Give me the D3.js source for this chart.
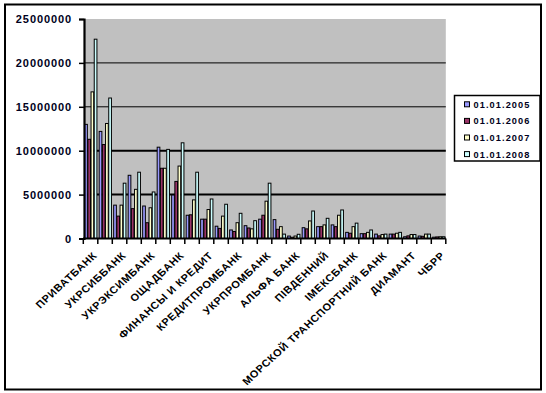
<!DOCTYPE html>
<html>
<head>
<meta charset="utf-8">
<script src="https://cdn.jsdelivr.net/npm/d3@7/dist/d3.min.js"></script>
<style>
  html, body { margin: 0; padding: 0; background: #fff; }
  svg { display: block; }
  text { font-family: "Liberation Sans", Arial, sans-serif; }
</style>
</head>
<body>
<svg id="chart" width="546" height="393"></svg>
<script>
// Category labels (only every other label is shown in the original chart)
const categories = [
  "ПРИВАТБАНК", "", "УКРСИББАНК", "", "УКРЭКСИМБАНК", "", "ОЩАДБАНК", "",
  "ФИНАНСЫ И КРЕДИТ", "", "КРЕДИТПРОМБАНК", "", "УКРПРОМБАНК", "",
  "АЛЬФА БАНК", "", "ПІВДЕННИЙ", "", "ІМЕКСБАНК", "",
  "МОРСКОЙ ТРАНСПОРТНИЙ БАНК", "", "ДИАМАНТ", "", "ЧБРР"
];
const seriesNames = ["01.01.2005", "01.01.2006", "01.01.2007", "01.01.2008"];
const s2005 = [13000000, 12200000, 3800000, 7200000, 3700000, 10400000, 4950000, 2650000, 2200000, 1400000, 970000, 1460000, 2200000, 2150000, 280000, 1230000, 1350000, 1550000, 700000, 550000, 500000, 500000, 200000, 280000, 150000];
const s2006 = [11300000, 10700000, 2550000, 3400000, 1800000, 8000000, 6500000, 2700000, 2200000, 1150000, 800000, 1200000, 2650000, 1050000, 140000, 1100000, 1350000, 1350000, 600000, 550000, 300000, 500000, 300000, 250000, 180000];
const s2007 = [16700000, 13100000, 3800000, 5600000, 3500000, 8000000, 8250000, 4400000, 3300000, 2550000, 1800000, 1100000, 4250000, 1350000, 280000, 2000000, 1550000, 2650000, 1350000, 700000, 450000, 600000, 450000, 500000, 200000];
const s2008 = [22700000, 16000000, 6300000, 7550000, 5300000, 10150000, 10900000, 7550000, 4500000, 3900000, 2870000, 2030000, 6300000, 500000, 480000, 3130000, 2300000, 3250000, 1750000, 970000, 500000, 700000, 450000, 500000, 200000];
const yTicks = [0, 5000000, 10000000, 15000000, 20000000, 25000000];
const colors = ["#9999FF", "#993366", "#FFFFCC", "#CCFFFF"];

const seriesValues = [s2005, s2006, s2007, s2008];

const svg = d3.select("#chart");

// outer frame
svg.append("rect").attr("x", 5).attr("y", 4.5).attr("width", 536).attr("height", 385)
  .attr("fill", "#fff").attr("stroke", "#000").attr("stroke-width", 2);

const plot = { left: 84, right: 445.8, top: 19, bottom: 238.5 };

const x0 = d3.scaleBand().domain(d3.range(categories.length))
  .range([plot.left - 0.7, plot.right]).paddingInner(0.12).paddingOuter(0.06);
const x1 = d3.scaleBand().domain(d3.range(seriesNames.length))
  .range([0, x0.bandwidth()]).padding(0);
const y = d3.scaleLinear().domain([0, 25000000]).range([plot.bottom, plot.top]);

// plot area
svg.append("rect").attr("x", plot.left).attr("y", plot.top)
  .attr("width", plot.right - plot.left).attr("height", plot.bottom - plot.top)
  .attr("fill", "#C0C0C0");

// gridlines
svg.append("g").selectAll("line").data(yTicks.filter(d => d > 0 && d < 25000000)).join("line")
  .attr("x1", plot.left).attr("x2", plot.right)
  .attr("y1", d => y(d)).attr("y2", d => y(d))
  .attr("stroke", "#000")
  .attr("stroke-width", d => d <= 10000000 ? 2 : 1);

// bars
const groups = svg.append("g").selectAll("g").data(d3.range(categories.length)).join("g")
  .attr("transform", i => `translate(${x0(i)},0)`);
groups.selectAll("rect").data(i => seriesValues.map((s, k) => ({ k, v: s[i] }))).join("rect")
  .attr("x", d => x1(d.k) + 0.5)
  .attr("width", x1.bandwidth() - 0.5)
  .attr("y", d => y(d.v))
  .attr("height", d => plot.bottom - y(d.v))
  .attr("fill", d => colors[d.k])
  .attr("stroke", "#000").attr("stroke-width", 1);

// y axis
const yAxis = d3.axisLeft(y).tickValues(yTicks).tickSize(5).tickPadding(7)
  .tickFormat(d3.format("d"));
const gy = svg.append("g").attr("transform", `translate(${plot.left},0)`).call(yAxis);
gy.select(".domain").attr("stroke", "#000").attr("stroke-width", 2.2);
gy.selectAll(".tick line").attr("stroke", "#000").attr("stroke-width", 1.5);
gy.selectAll(".tick text").attr("font-size", 11).attr("font-weight", "bold")
  .attr("fill", "#000020").attr("letter-spacing", "0.9px")
  .attr("font-family", "'Liberation Sans', Arial, sans-serif");

// x axis line and ticks at category boundaries
const step = x0.step();
const xStart = plot.left - 0.7;
svg.append("line").attr("x1", plot.left - 1).attr("x2", plot.right)
  .attr("y1", plot.bottom).attr("y2", plot.bottom)
  .attr("stroke", "#000").attr("stroke-width", 2.2);
svg.append("g").selectAll("line").data(d3.range(categories.length + 1)).join("line")
  .attr("x1", i => xStart + i * step).attr("x2", i => xStart + i * step)
  .attr("y1", plot.bottom).attr("y2", plot.bottom + 5.5)
  .attr("stroke", "#000").attr("stroke-width", 1.5);

// category labels
svg.append("g").selectAll("text").data(d3.range(categories.length).filter(i => categories[i] !== "")).join("text")
  .attr("transform", i => `translate(${x0(i) + x0.bandwidth() / 2 + 1.5},251) scale(1,0.92) rotate(-45)`)
  .attr("text-anchor", "end")
  .attr("dy", "0.72em")
  .attr("font-size", 11).attr("font-weight", "bold").attr("letter-spacing", "0.65px")
  .attr("fill", "#000")
  .text(i => categories[i]);

// legend
const lg = svg.append("g");
lg.append("rect").attr("x", 454.5).attr("y", 95.5).attr("width", 85.5).attr("height", 65.5)
  .attr("fill", "#fff").attr("stroke", "#000").attr("stroke-width", 1.5);
const items = lg.selectAll("g").data(seriesNames).join("g")
  .attr("transform", (d, i) => `translate(464.5,${104.3 + i * 16.6})`);
items.append("rect").attr("x", 0).attr("y", -2.5).attr("width", 5).attr("height", 5)
  .attr("fill", (d, i) => colors[i]).attr("stroke", "#000").attr("stroke-width", 1);
items.append("text").attr("x", 9).attr("y", 3.4)
  .attr("font-size", 9.2).attr("font-weight", "bold").attr("letter-spacing", "1.1px")
  .attr("fill", "#000020").text(d => d);
</script>
</body>
</html>
